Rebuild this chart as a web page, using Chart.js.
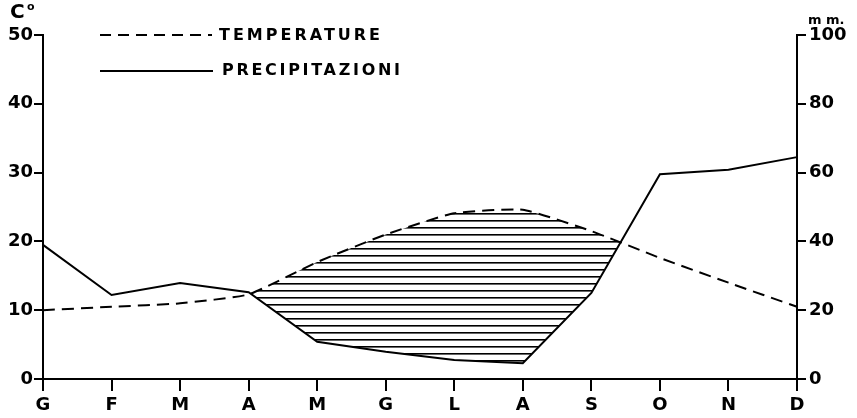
<!DOCTYPE html>
<html>
<head>
<meta charset="utf-8">
<script src="https://cdn.jsdelivr.net/npm/chart.js@4/dist/chart.umd.min.js"></script>
<style>
  html, body { margin:0; padding:0; background:#fff; }
  #wrap { width:857px; height:418px; }
</style>
</head>
<body>
<div id="wrap"><canvas id="grafico"></canvas></div>
<script>
// mesi (G F M A M G L A S O N D)
const mesi = ['G','F','M','A','M','G','L','A','S','O','N','D'];
// temperature medie mensili, °C (asse sinistro)
const temperature = [10, 10.5, 11, 12.3, 17, 21, 24.1, 24.6, 21.5, 17.6, 14, 10.5];
// precipitazioni medie mensili, mm (asse destro)
const precipitazioni = [39, 24.4, 27.9, 25.2, 10.8, 7.9, 5.5, 4.6, 25, 59.5, 60.8, 64.5];
const tickTemp = [0, 10, 20, 30, 40, 50];
const tickPrec = [0, 20, 40, 60, 80, 100];

const canvas = document.getElementById('grafico');
const ctx = canvas.getContext('2d');

// righe orizzontali per il periodo arido
function tratteggio(){
  const c = document.createElement('canvas');
  c.width = 12; c.height = 7;
  const g = c.getContext('2d');
  g.fillStyle = '#000';
  g.fillRect(0, 3, 12, 1.6);
  return ctx.createPattern(c, 'repeat');
}

Chart.defaults.font.family = '"DejaVu Sans", sans-serif';
Chart.defaults.color = '#000';

const legenda = {
  id: 'legenda',
  afterDraw(chart){
    const c = chart.ctx;
    c.save();
    c.strokeStyle = '#000';
    c.lineWidth = 2;
    // temperature
    c.setLineDash([11, 7]);
    c.beginPath(); c.moveTo(100, 35); c.lineTo(212, 35); c.stroke();
    // precipitazioni
    c.setLineDash([]);
    c.beginPath(); c.moveTo(100, 71); c.lineTo(213, 71); c.stroke();

    c.fillStyle = '#000';
    c.textBaseline = 'middle';
    c.font = 'bold 16px "DejaVu Sans"';
    c.letterSpacing = '3px';
    c.fillText('TEMPERATURE', 219, 36);
    c.letterSpacing = '2.7px';
    c.fillText('PRECIPITAZIONI', 222, 71);
    c.letterSpacing = '0px';

    c.font = 'bold 20px "DejaVu Sans"';
    c.fillText('C', 10, 13);
    c.font = 'bold 11px "DejaVu Sans"';
    c.fillText('o', 27, 7);
    c.font = 'bold 13px "DejaVu Sans"';
    c.fillText('m m.', 808, 21);
    c.restore();
  }
};

const asseY = (cb) => ({
  border: { color:'#000', width:2 },
  grid: { drawOnChartArea:false, color:'#000', lineWidth:2, tickLength:9 },
  afterFit: cb
});

new Chart(canvas, {
  type: 'line',
  data: {
    labels: mesi,
    datasets: [
      {
        label: 'TEMPERATURE',
        data: temperature,
        yAxisID: 'yT',
        borderColor: '#000',
        borderWidth: 2,
        borderDash: [12, 7],
        pointRadius: 0,
        tension: 0.15,
        fill: { target: 1, above: tratteggio(), below: 'rgba(0,0,0,0)' }
      },
      {
        label: 'PRECIPITAZIONI',
        data: precipitazioni,
        yAxisID: 'yP',
        borderColor: '#000',
        borderWidth: 2,
        pointRadius: 0,
        tension: 0,
        fill: false
      }
    ]
  },
  options: {
    responsive: true,
    maintainAspectRatio: false,
    animation: false,
    layout: { padding: { top: 35 } },
    plugins: { legend: { display:false }, tooltip: { enabled:false } },
    scales: {
      x: {
        offset: false,
        border: { color:'#000', width:2 },
        grid: { drawOnChartArea:false, color:'#000', lineWidth:2, tickLength:12 },
        ticks: { font:{ size:18, weight:'bold' }, padding:4, maxRotation:0, autoSkip:false },
        afterFit: s => { s.height = 39; }
      },
      yT: Object.assign(asseY(s => { s.width = 43; }), {
        position: 'left', min: 0, max: 50,
        afterBuildTicks: s => { s.ticks = tickTemp.map(v => ({ value:v })); },
        ticks: { font:{ size:18, weight:'bold' }, padding:1 }
      }),
      yP: Object.assign(asseY(s => { s.width = 60; }), {
        position: 'right', min: 0, max: 100,
        afterBuildTicks: s => { s.ticks = tickPrec.map(v => ({ value:v })); },
        ticks: { font:{ size:18, weight:'bold' }, padding:3 }
      })
    }
  },
  plugins: [legenda]
});
</script>
</body>
</html>
